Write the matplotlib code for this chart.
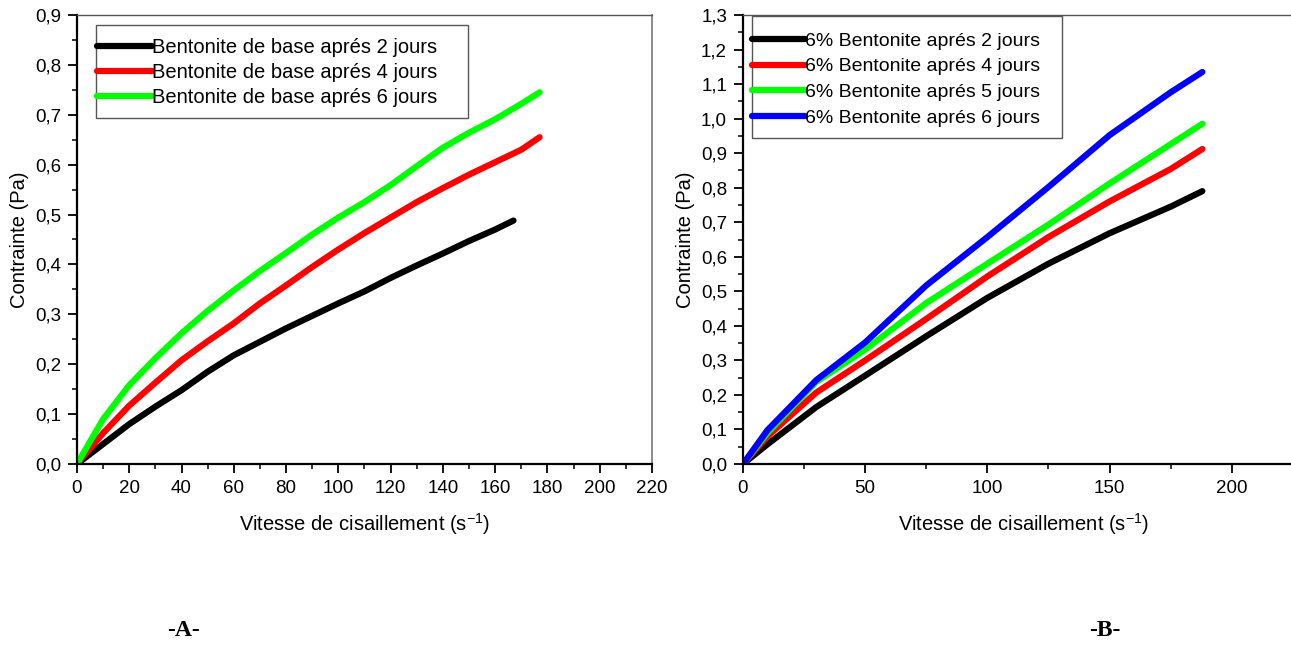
import matplotlib
matplotlib.use("Agg")
import matplotlib.pyplot as plt
from matplotlib.patches import Rectangle
from matplotlib.ticker import MultipleLocator, FuncFormatter

plt.rcParams['font.family'] = ['Liberation Sans', 'DejaVu Sans']
plt.rcParams['mathtext.default'] = 'regular'

# ---- Panel A data ----
xa_2 = [0, 10, 20, 30, 40, 50, 60, 70, 80, 90, 100, 110, 120, 130, 140, 150, 160, 167]
ya_2 = [0, 0.040, 0.080, 0.115, 0.148, 0.185, 0.218, 0.245, 0.272, 0.297, 0.322, 0.346, 0.373, 0.398, 0.422, 0.447, 0.470, 0.488]
xa_4 = [0, 10, 20, 30, 40, 50, 60, 70, 80, 90, 100, 110, 120, 130, 140, 150, 160, 170, 177]
ya_4 = [0, 0.062, 0.117, 0.163, 0.208, 0.246, 0.282, 0.322, 0.358, 0.395, 0.430, 0.463, 0.494, 0.525, 0.553, 0.580, 0.605, 0.630, 0.655]
xa_6 = [0, 10, 20, 30, 40, 50, 60, 70, 80, 90, 100, 110, 120, 130, 140, 150, 160, 170, 177]
ya_6 = [0, 0.090, 0.158, 0.212, 0.262, 0.307, 0.348, 0.387, 0.423, 0.460, 0.494, 0.525, 0.559, 0.597, 0.634, 0.664, 0.691, 0.722, 0.745]
labels_a = ["Bentonite de base aprés 2 jours", "Bentonite de base aprés 4 jours",
            "Bentonite de base aprés 6 jours"]

# ---- Panel B data ----
xb = [0, 10, 30, 50, 75, 100, 125, 150, 175, 188]
yb_2 = [0, 0.057, 0.165, 0.256, 0.370, 0.481, 0.580, 0.668, 0.745, 0.790]
yb_4 = [0, 0.080, 0.207, 0.300, 0.420, 0.543, 0.657, 0.760, 0.854, 0.912]
yb_5 = [0, 0.090, 0.238, 0.331, 0.466, 0.580, 0.693, 0.812, 0.926, 0.985]
yb_6 = [0, 0.098, 0.243, 0.352, 0.517, 0.657, 0.802, 0.952, 1.076, 1.135]
labels_b = ["6% Bentonite aprés 2 jours", "6% Bentonite aprés 4 jours",
            "6% Bentonite aprés 5 jours", "6% Bentonite aprés 6 jours"]

c_black, c_red, c_green, c_blue = "#000000", "#ff0000", "#00ff00", "#0000ff"

fig = plt.figure(figsize=(12.91, 6.63), dpi=100)
W, H = 1291, 663

def mk_axes(l, r, t, b):
    return fig.add_axes([l / W, 1 - b / H, (r - l) / W, (b - t) / H])

comma = FuncFormatter(lambda v, p: ("%.1f" % v).replace(".", ","))

def style(ax):
    ax.spines['bottom'].set_linewidth(1.6)
    ax.spines['left'].set_linewidth(1.6)
    ax.spines['top'].set_color('#555555')
    ax.spines['right'].set_color('#777777')
    ax.spines['top'].set_linewidth(1.0)
    ax.spines['right'].set_linewidth(1.2)
    ax.tick_params(which='major', direction='out', length=6.5, width=1.3, labelsize=13.5, pad=5)
    ax.tick_params(which='minor', direction='out', length=3.6, width=1.1)
    ax.yaxis.set_major_formatter(comma)
    ax.set_xlabel("Vitesse de cisaillement (s$^{-1}$)", fontsize=14.5, labelpad=10)
    ax.set_ylabel("Contrainte (Pa)", fontsize=14.5, labelpad=4)

def legend_box(ax, l, t, r, b, tx, ty, fs, hl, ls):
    rect = Rectangle((l / W, 1 - b / H), (r - l) / W, (b - t) / H, transform=fig.transFigure,
                     facecolor='white', edgecolor='#555555', lw=1.0, clip_on=False, zorder=4)
    ax.add_patch(rect)
    leg = ax.legend(loc='upper left', bbox_to_anchor=(tx / W, 1 - ty / H),
                    bbox_transform=fig.transFigure, frameon=False, fontsize=fs,
                    handlelength=hl, handletextpad=0.0, labelspacing=ls,
                    borderpad=0.0, borderaxespad=0.0)
    leg.set_zorder(6)
    return leg

lw = 4.5

# Panel A
axA = mk_axes(77, 652, 15, 464)
axA.plot(xa_2, ya_2, color=c_black, lw=lw, label=labels_a[0], solid_capstyle='round')
axA.plot(xa_4, ya_4, color=c_red, lw=lw, label=labels_a[1], solid_capstyle='round')
axA.plot(xa_6, ya_6, color=c_green, lw=lw, label=labels_a[2], solid_capstyle='round')
axA.set_xlim(0, 220)
axA.set_ylim(0, 0.9)
axA.xaxis.set_major_locator(MultipleLocator(20))
axA.xaxis.set_minor_locator(MultipleLocator(10))
axA.yaxis.set_major_locator(MultipleLocator(0.1))
axA.yaxis.set_minor_locator(MultipleLocator(0.05))
style(axA)
legend_box(axA, 96, 25, 468, 118, 97, 38, 14.5, 2.75, 0.3)

# Panel B
axB = mk_axes(743, 1305, 15, 464)
axB.plot(xb, yb_2, color=c_black, lw=lw, label=labels_b[0], solid_capstyle='round')
axB.plot(xb, yb_4, color=c_red, lw=lw, label=labels_b[1], solid_capstyle='round')
axB.plot(xb, yb_5, color=c_green, lw=lw, label=labels_b[2], solid_capstyle='round')
axB.plot(xb, yb_6, color=c_blue, lw=lw, label=labels_b[3], solid_capstyle='round')
axB.set_xlim(0, 230)
axB.set_ylim(0, 1.3)
axB.xaxis.set_major_locator(MultipleLocator(50))
axB.xaxis.set_minor_locator(MultipleLocator(25))
axB.yaxis.set_major_locator(MultipleLocator(0.1))
axB.yaxis.set_minor_locator(MultipleLocator(0.05))
style(axB)
legend_box(axB, 752, 16, 1062, 138, 752, 32, 14, 2.7, 0.42)

fig.text(183 / W, 1 - 630 / H, "-A-", family=['Liberation Serif', 'DejaVu Serif'],
         fontweight='bold', fontsize=17, ha='center', va='center')
fig.text(1105 / W, 1 - 630 / H, "-B-", family=['Liberation Serif', 'DejaVu Serif'],
         fontweight='bold', fontsize=17, ha='center', va='center')

fig.savefig("out.png", dpi=100)
